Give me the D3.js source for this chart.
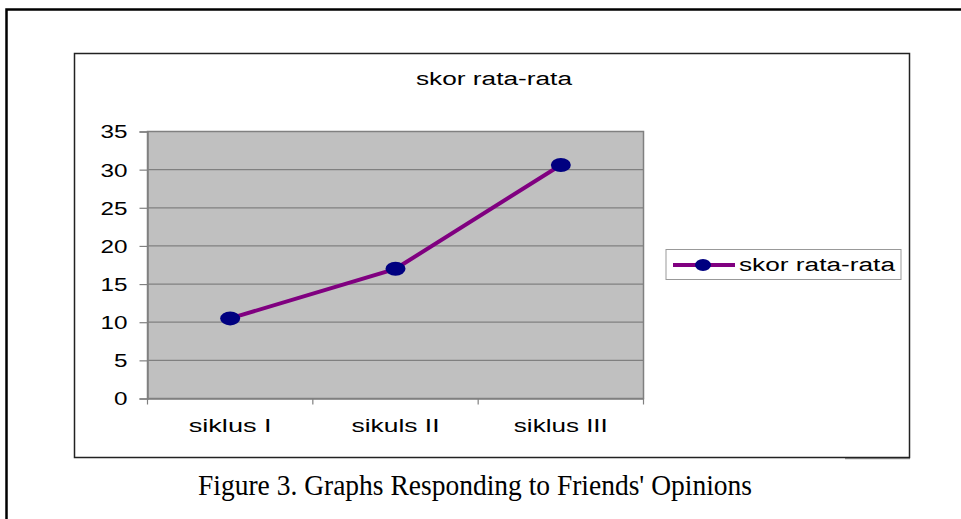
<!DOCTYPE html>
<html>
<head>
<meta charset="utf-8">
<script src="https://cdn.jsdelivr.net/npm/d3@7"></script>
<style>
  body { margin: 0; background: #fff; }
  svg { display: block; }
</style>
</head>
<body>
<div id="chart"></div>
<script>
// data
var categories = ["siklus I", "sikuls II", "siklus III"];
var scores = [10.5, 17.0, 30.6];
var yTicks = [0, 5, 10, 15, 20, 25, 30, 35];
var seriesName = "skor rata-rata";
var caption = "Figure 3. Graphs Responding to Friends' Opinions";

var sans = "Liberation Sans, Arial, sans-serif";

var svg = d3.select("#chart")
  .append("svg")
  .attr("width", 961)
  .attr("height", 519);

// the original text is stretched wide, so fit each string to its measured width
function stretch(sel, w) {
  sel.attr("textLength", w).attr("lengthAdjust", "spacingAndGlyphs");
}

// page frame (top and left edge of the document box)
svg.append("path")
  .attr("d", "M6.5,519 L6.5,9.5 L961,9.5")
  .attr("fill", "none")
  .attr("stroke", "#000")
  .attr("stroke-width", 2.5);

// chart box + little shadow
svg.append("line")
  .attr("x1", 845).attr("x2", 910)
  .attr("y1", 458.5).attr("y2", 458.5)
  .attr("stroke", "#999").attr("stroke-width", 1.5);
svg.append("rect")
  .attr("x", 74.5).attr("y", 53.5)
  .attr("width", 835).attr("height", 404)
  .attr("fill", "#fff")
  .attr("stroke", "#222")
  .attr("stroke-width", 1.5);

svg.append("text")
  .attr("x", 494).attr("y", 85)
  .attr("text-anchor", "middle")
  .style("font-family", sans)
  .style("font-size", "18px")
  .text(seriesName)
  .call(stretch, 156);

var x = d3.scaleBand().domain(categories).range([147.5, 643.5]);
var y = d3.scaleLinear().domain([0, 35]).range([398.5, 131.5]);

// plot area
svg.append("rect")
  .attr("x", x.range()[0]).attr("y", y(35))
  .attr("width", x.range()[1] - x.range()[0])
  .attr("height", y(0) - y(35))
  .attr("fill", "#c0c0c0")
  .attr("stroke", "#808080")
  .attr("stroke-width", 1.5);

svg.append("g").selectAll("line.grid")
  .data(yTicks.slice(1, -1))
  .enter()
  .append("line")
  .attr("class", "grid")
  .attr("x1", x.range()[0]).attr("x2", x.range()[1])
  .attr("y1", function(d) { return y(d); })
  .attr("y2", function(d) { return y(d); })
  .attr("stroke", "#808080")
  .attr("stroke-width", 1.2);

var yAxis = d3.axisLeft(y).tickValues(yTicks).tickSize(8).tickPadding(12);
var yG = svg.append("g").attr("id", "yAxisG")
  .attr("transform", "translate(" + x.range()[0] + ",0)")
  .call(yAxis);

var xAxis = d3.axisBottom(x).tickSize(0).tickPadding(20);
var xG = svg.append("g").attr("id", "xAxisG")
  .attr("transform", "translate(0," + y(0) + ")")
  .call(xAxis);

// category boundary ticks
svg.append("g").selectAll("line.xt")
  .data(d3.range(categories.length + 1))
  .enter()
  .append("line")
  .attr("x1", function(i) { return x.range()[0] + i * x.step(); })
  .attr("x2", function(i) { return x.range()[0] + i * x.step(); })
  .attr("y1", y(0)).attr("y2", y(0) + 6)
  .attr("stroke", "#808080")
  .attr("stroke-width", 1.2);

[yG, xG].forEach(function(g) {
  g.select(".domain").attr("stroke", "#808080").attr("stroke-width", 1.5);
  g.selectAll(".tick line").attr("stroke", "#808080").attr("stroke-width", 1.2);
  g.selectAll("text")
    .attr("fill", "#000")
    .style("font-family", sans)
    .style("font-size", "18px");
});

yG.selectAll(".tick text")
  .attr("dy", "0.36em")
  .each(function(d) { stretch(d3.select(this), String(d).length * 13.5); });

var xWidths = [83, 88, 94];
xG.selectAll(".tick text")
  .attr("dy", "0")
  .attr("y", 33.5)
  .each(function(d, i) { stretch(d3.select(this), xWidths[i]); });

// series
var line = d3.line()
  .x(function(d, i) { return x(categories[i]) + x.bandwidth() / 2; })
  .y(function(d) { return y(d); });

svg.append("path")
  .attr("d", line(scores))
  .attr("fill", "none")
  .attr("stroke", "#800080")
  .attr("stroke-width", 4);

svg.selectAll("ellipse.pt")
  .data(scores)
  .enter()
  .append("ellipse")
  .attr("class", "pt")
  .attr("cx", function(d, i) { return x(categories[i]) + x.bandwidth() / 2; })
  .attr("cy", function(d) { return y(d); })
  .attr("rx", 10).attr("ry", 7)
  .attr("fill", "#000080");

// legend
var lg = svg.append("g").attr("transform", "translate(666,249.5)");
lg.append("rect")
  .attr("width", 235).attr("height", 30)
  .attr("fill", "#fff")
  .attr("stroke", "#999")
  .attr("stroke-width", 1);
lg.append("line")
  .attr("x1", 7).attr("x2", 69)
  .attr("y1", 15.5).attr("y2", 15.5)
  .attr("stroke", "#800080")
  .attr("stroke-width", 4);
lg.append("ellipse")
  .attr("cx", 37).attr("cy", 15.5)
  .attr("rx", 8).attr("ry", 6)
  .attr("fill", "#000080");
lg.append("text")
  .attr("x", 73).attr("y", 21)
  .style("font-family", sans)
  .style("font-size", "18px")
  .text(seriesName)
  .call(stretch, 156);

// caption
svg.append("text")
  .attr("x", 475).attr("y", 495)
  .attr("text-anchor", "middle")
  .style("font-family", "Liberation Serif, Times New Roman, serif")
  .style("font-size", "30px")
  .text(caption)
  .call(stretch, 554);
</script>
</body>
</html>
